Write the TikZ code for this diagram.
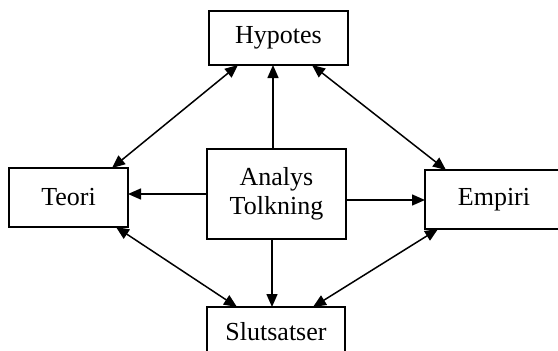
\documentclass[tikz,border=0pt]{standalone}
\usepackage{fontspec}
\setmainfont{Liberation Serif}
\usetikzlibrary{arrows.meta}

\begin{document}
\begin{tikzpicture}[x=1pt, y=-1pt, ->, >={Triangle[length=13pt,width=11pt]},
  line width=1.5pt,
  box/.style={draw, rectangle, line width=1.6pt, inner sep=0pt, outer sep=0pt,
    align=center, font=\fontsize{26}{29}\selectfont}]
  \useasboundingbox (0,0) rectangle (558,351);
  \clip (0,0) rectangle (558,351);
  \node[box, minimum width=139pt, minimum height=54pt] (hyp) at (278.5,38) {Hypotes};
  \node[box, minimum width=139pt, minimum height=90pt] (ana) at (276.5,194) {Analys\\Tolkning};
  \node[box, minimum width=119pt, minimum height=59pt] (teo) at (68.5,197.5) {Teori};
  \node[box, minimum width=138pt, minimum height=59pt] (emp) at (494,199.5) {Empiri};
  \node[box, minimum width=138pt, minimum height=50pt] (slu) at (276,332) {Slutsatser};

  % from the centre outwards
  \draw ([xshift=-3.5pt]ana.north) -- ([xshift=-3.5pt]ana.north |- hyp.south);
  \draw (ana.west) -- (ana.west -| teo.east);
  \draw ([yshift=-6pt]ana.east) -- ([yshift=-6pt]ana.east -| emp.west);
  \draw ([xshift=-4.5pt]ana.south) -- ([xshift=-4.5pt]ana.south |- slu.north);

  % round the outside
  \draw[<->] ([xshift=29pt]hyp.south west) -- ([xshift=-16pt]teo.north east);
  \draw[<->] ([xshift=-36pt]hyp.south east) -- ([xshift=21pt]emp.north west);
  \draw[<->] ([xshift=-12pt]teo.south east) -- ([xshift=30pt]slu.north west);
  \draw[<->] ([xshift=13pt]emp.south west) -- ([xshift=-32pt]slu.north east);
\end{tikzpicture}
\end{document}
